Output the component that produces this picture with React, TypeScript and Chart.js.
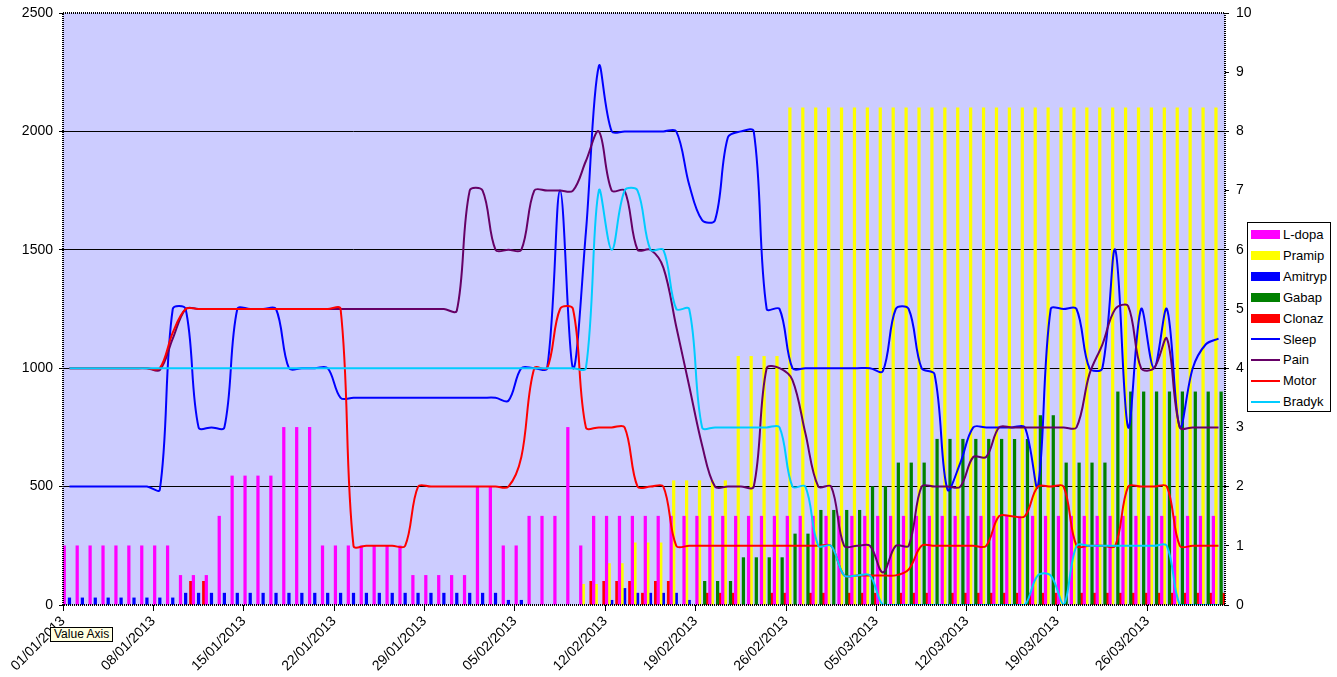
import { useEffect, useRef } from "react";
import { Chart, registerables } from "chart.js";

Chart.register(...registerables);

// x axis: one slot per day, 01/01/2013 .. 31/03/2013 (90 days)
const X_TICK_DAYS = [0, 7, 14, 21, 28, 35, 42, 49, 56, 63, 70, 77, 84];
const X_TICK_LABELS = [
  "01/01/2013", "08/01/2013", "15/01/2013", "22/01/2013", "29/01/2013",
  "05/02/2013", "12/02/2013", "19/02/2013", "26/02/2013", "05/03/2013",
  "12/03/2013", "19/03/2013", "26/03/2013",
];

// bar series (left axis, 0-2500)
const LDOPA = [
  250, 250, 250, 250, 250, 250, 250, 250, 250, 125,
  125, 125, 375, 545, 545, 545, 545, 750, 750, 750,
  250, 250, 250, 250, 250, 250, 250, 125, 125, 125,
  125, 125, 500, 500, 250, 250, 375, 375, 375, 750,
  250, 375, 375, 375, 375, 375, 375, 375, 375, 375,
  375, 375, 375, 375, 375, 375, 375, 375, 375, 375,
  375, 375, 375, 375, 375, 375, 375, 375, 375, 375,
  375, 375, 375, 375, 375, 375, 375, 375, 375, 375,
  375, 375, 375, 375, 375, 375, 375, 375, 375, 375,
];
const PRAMIP = [
  0, 0, 0, 0, 0, 0, 0, 0, 0, 0,
  0, 0, 0, 0, 0, 0, 0, 0, 0, 0,
  0, 0, 0, 0, 0, 0, 0, 0, 0, 0,
  0, 0, 0, 0, 0, 0, 0, 0, 0, 0,
  87.5, 87.5, 175, 175, 262.5, 262.5, 262.5, 525, 525, 525,
  525, 525, 1050, 1050, 1050, 1050, 2100, 2100, 2100, 2100,
  2100, 2100, 2100, 2100, 2100, 2100, 2100, 2100, 2100, 2100,
  2100, 2100, 2100, 2100, 2100, 2100, 2100, 2100, 2100, 2100,
  2100, 2100, 2100, 2100, 2100, 2100, 2100, 2100, 2100, 2100,
];
const AMITRYP = [
  30, 30, 30, 30, 30, 30, 30, 30, 30, 50,
  50, 50, 50, 50, 50, 50, 50, 50, 50, 50,
  50, 50, 50, 50, 50, 50, 50, 50, 50, 50,
  50, 50, 50, 50, 20, 20, 0, 0, 0, 0,
  0, 0, 20, 70, 50, 50, 50, 50, 20, 0,
  0, 0, 0, 0, 0, 0, 0, 0, 0, 0,
  0, 0, 0, 0, 0, 0, 0, 0, 0, 0,
  0, 0, 0, 0, 0, 0, 0, 0, 0, 0,
  0, 0, 0, 0, 0, 0, 0, 0, 0, 0,
];
const GABAP = [
  0, 0, 0, 0, 0, 0, 0, 0, 0, 0,
  0, 0, 0, 0, 0, 0, 0, 0, 0, 0,
  0, 0, 0, 0, 0, 0, 0, 0, 0, 0,
  0, 0, 0, 0, 0, 0, 0, 0, 0, 0,
  0, 0, 0, 0, 0, 0, 0, 0, 0, 100,
  100, 100, 200, 200, 200, 200, 300, 300, 400, 400,
  400, 400, 500, 500, 600, 600, 600, 700, 700, 700,
  700, 700, 700, 700, 700, 800, 800, 600, 600, 600,
  600, 900, 900, 900, 900, 900, 900, 900, 900, 900,
];
const CLONAZ = [
  0, 0, 0, 0, 0, 0, 0, 0, 0, 100,
  100, 0, 0, 0, 0, 0, 0, 0, 0, 0,
  0, 0, 0, 0, 0, 0, 0, 0, 0, 0,
  0, 0, 0, 0, 0, 0, 0, 0, 0, 0,
  100, 100, 100, 100, 50, 100, 100, 0, 0, 50,
  50, 50, 0, 0, 50, 50, 0, 50, 50, 0,
  50, 50, 50, 0, 50, 50, 50, 0, 50, 50,
  50, 50, 50, 50, 50, 50, 50, 0, 50, 50,
  50, 50, 50, 50, 50, 50, 50, 50, 50, 50,
];

// line series (right axis, 0-10)
const SLEEP = [
  2, 2, 2, 2, 2, 2, 2, 1.95, 5, 5,
  3, 3, 3, 5, 5, 5, 5, 4, 4, 4,
  4, 3.5, 3.5, 3.5, 3.5, 3.5, 3.5, 3.5, 3.5, 3.5,
  3.5, 3.5, 3.5, 3.5, 3.45, 4, 4, 4, 7, 4,
  6.3, 9.1, 8, 8, 8, 8, 8, 8, 7.1, 6.5,
  6.5, 7.9, 8, 8, 5, 5, 4, 4, 4, 4,
  4, 4, 4, 3.95, 5, 5, 4, 3.9, 1.95, 2.4,
  3, 3, 3, 3, 3, 2, 5, 5, 5, 4,
  4, 6, 3, 5, 4, 5, 3, 4, 4.4, 4.5,
];
const PAIN = [
  4, 4, 4, 4, 4, 4, 4, 3.97, 4.5, 5,
  5, 5, 5, 5, 5, 5, 5, 5, 5, 5,
  5, 5, 5, 5, 5, 5, 5, 5, 5, 5,
  4.97, 7, 7, 6, 6, 6, 7, 7, 7, 7,
  7.5, 8, 7, 7, 6, 6, 5.7, 4.7, 3.7, 2.7,
  2, 2, 2, 2, 4, 4, 3.8, 2.9, 2, 2,
  1, 1, 1, 0.55, 1, 1, 2, 2, 2, 2,
  2.5, 2.5, 3, 3, 3, 3, 3, 3, 3, 3.9,
  4.4, 5, 5.05, 4, 4, 4.5, 3, 3, 3, 3,
];
const MOTOR = [
  4, 4, 4, 4, 4, 4, 4, 4, 4.6, 5,
  5, 5, 5, 5, 5, 5, 5, 5, 5, 5,
  5, 5, 1, 1, 1, 1, 1, 2, 2, 2,
  2, 2, 2, 2, 2, 2.5, 4, 4, 5, 5,
  3, 3, 3, 3, 2, 2, 2, 1, 1, 1,
  1, 1, 1, 1, 1, 1, 1, 1, 1, 1,
  0.5, 0.5, 0.5, 0.5, 0.5, 0.6, 1, 1, 1, 1,
  1, 1, 1.5, 1.5, 1.5, 2, 2, 2, 1, 1,
  1, 1, 2, 2, 2, 2, 1, 1, 1, 1,
];
const BRADYK = [
  4, 4, 4, 4, 4, 4, 4, 4, 4, 4,
  4, 4, 4, 4, 4, 4, 4, 4, 4, 4,
  4, 4, 4, 4, 4, 4, 4, 4, 4, 4,
  4, 4, 4, 4, 4, 4, 4, 4, 4, 4,
  4, 7, 6, 7, 7, 6, 6, 5, 5, 3,
  3, 3, 3, 3, 3, 3, 2, 2, 1, 1,
  0.5, 0.5, 0.5, 0, 0, 0, 0, 0, 0, 0,
  0, 0, 0, 0, 0, 0.5, 0.5, 0, 1, 1,
  1, 1, 1, 1, 1, 1, 0, 0, 0, 0,
];

const BARS = [
  { label: "L-dopa", data: LDOPA, color: "#FF00FF" },
  { label: "Pramip", data: PRAMIP, color: "#FFFF00" },
  { label: "Amitryp", data: AMITRYP, color: "#0000FF" },
  { label: "Gabap", data: GABAP, color: "#008000" },
  { label: "Clonaz", data: CLONAZ, color: "#FF0000" },
];
const LINES = [
  { label: "Sleep", data: SLEEP, color: "#0000FF" },
  { label: "Pain", data: PAIN, color: "#660066" },
  { label: "Motor", data: MOTOR, color: "#FF0000" },
  { label: "Bradyk", data: BRADYK, color: "#00CCFF" },
];

const FONT = "'Liberation Sans', Arial, sans-serif";

// each day sits in the middle of its slot
const toPoints = (vals: number[], dropZero: boolean) =>
  vals.map((v, i) => ({ x: i + 0.5, y: dropZero && v === 0 ? null : v }));

// lavender plot background + dotted frame like the Excel original
const plotFrame = {
  id: "plotFrame",
  beforeDraw(chart: any) {
    const { ctx, chartArea: a } = chart;
    ctx.save();
    ctx.fillStyle = "#CCCCFF";
    ctx.fillRect(a.left, a.top, a.right - a.left, a.bottom - a.top);
    ctx.restore();
  },
  afterDraw(chart: any) {
    const { ctx, chartArea: a } = chart;
    ctx.save();
    ctx.strokeStyle = "#000";
    ctx.lineWidth = 2;
    ctx.setLineDash([1, 1]);
    ctx.strokeRect(a.left, a.top, a.right - a.left, a.bottom - a.top);
    ctx.restore();
  },
};

const noBorder = { display: false };

export default function App() {
  const canvasRef = useRef<HTMLCanvasElement>(null);
  const chartRef = useRef<Chart | null>(null);

  useEffect(() => {
    if (!canvasRef.current) return;
    if (chartRef.current) chartRef.current.destroy();

    const datasets: any[] = [
      ...LINES.map((s, i) => ({
        type: "line",
        label: s.label,
        data: toPoints(s.data, false),
        borderColor: s.color,
        backgroundColor: s.color,
        borderWidth: 2,
        pointRadius: 0,
        tension: 0.35,
        fill: false,
        yAxisID: "y1",
        order: 4 - i,
      })),
      ...BARS.map((s) => ({
        type: "bar",
        label: s.label,
        data: toPoints(s.data, true),
        backgroundColor: s.color,
        borderWidth: 0,
        categoryPercentage: 1,
        barPercentage: 1,
        yAxisID: "y",
        order: 10,
      })),
    ];

    chartRef.current = new Chart(canvasRef.current, {
      type: "bar",
      data: { datasets },
      plugins: [plotFrame],
      options: {
        animation: false,
        responsive: true,
        maintainAspectRatio: false,
        layout: { padding: { left: 8, right: 82, top: 13, bottom: 0 } },
        plugins: {
          legend: { display: false },
          tooltip: { enabled: false },
        },
        scales: {
          x: {
            type: "linear",
            min: 0,
            max: 90,
            offset: false,
            afterBuildTicks: (axis: any) => {
              axis.ticks = X_TICK_DAYS.map((v) => ({ value: v }));
            },
            afterFit: (axis: any) => {
              axis.height = 72;
              axis.paddingLeft = 0;
              axis.paddingRight = 0;
            },
            ticks: {
              autoSkip: false,
              minRotation: 45,
              maxRotation: 45,
              padding: 2,
              color: "#000",
              font: { family: FONT, size: 14 },
              callback: (_v: any, index: number) => X_TICK_LABELS[index] ?? "",
            },
            grid: {
              display: true,
              offset: false,
              drawOnChartArea: false,
              drawTicks: true,
              tickLength: 6,
              color: "#000",
            },
            border: noBorder,
          },
          y: {
            position: "left",
            min: 0,
            max: 2500,
            afterFit: (axis: any) => {
              axis.width = 55;
              axis.paddingTop = 0;
              axis.paddingBottom = 0;
            },
            ticks: {
              stepSize: 500,
              padding: 6,
              color: "#000",
              font: { family: FONT, size: 14 },
              callback: (v: any) => String(v),
            },
            grid: {
              color: (ctx: any) =>
                ctx.tick && ctx.tick.value > 0 && ctx.tick.value < 2500 ? "#000" : "rgba(0,0,0,0)",
              tickColor: "#000",
              tickLength: 4,
              lineWidth: 1,
            },
            border: noBorder,
          },
          y1: {
            position: "right",
            min: 0,
            max: 10,
            afterFit: (axis: any) => {
              axis.width = 30;
              axis.paddingTop = 0;
              axis.paddingBottom = 0;
            },
            ticks: {
              stepSize: 1,
              padding: 7,
              color: "#000",
              font: { family: FONT, size: 14 },
              callback: (v: any) => String(v),
            },
            grid: {
              drawOnChartArea: false,
              tickColor: "#000",
              tickLength: 4,
            },
            border: noBorder,
          },
        },
      } as any,
    });

    return () => {
      if (chartRef.current) {
        chartRef.current.destroy();
        chartRef.current = null;
      }
    };
  }, []);

  const legendItems = [
    ...BARS.map((s) => ({ label: s.label, color: s.color, bar: true })),
    ...LINES.map((s) => ({ label: s.label, color: s.color, bar: false })),
  ];

  return (
    <div
      style={{
        position: "absolute",
        left: 0,
        top: 0,
        width: 1337,
        height: 677,
        background: "#fff",
        overflow: "hidden",
        fontFamily: FONT,
      }}
    >
      <canvas ref={canvasRef} />
      <div
        style={{
          position: "absolute",
          left: 1247,
          top: 222,
          width: 84,
          height: 190,
          border: "1px solid #000",
          background: "#fff",
          boxSizing: "border-box",
        }}
      >
        {legendItems.map((item, i) => (
          <div
            key={item.label}
            style={{
              position: "absolute",
              left: 3,
              top: 12.5 + 20.9 * i - 1 - 8,
              height: 16,
              display: "flex",
              alignItems: "center",
              fontSize: 13,
              color: "#000",
              whiteSpace: "nowrap",
            }}
          >
            <span
              style={{
                display: "inline-block",
                width: 29,
                height: item.bar ? 9 : 2,
                background: item.color,
                marginRight: 3,
              }}
            />
            {item.label}
          </div>
        ))}
      </div>
      <div
        style={{
          position: "absolute",
          left: 50,
          top: 627,
          height: 15,
          padding: "0 3px",
          border: "1px solid #000",
          background: "#FFFFE1",
          fontSize: 12,
          lineHeight: "13px",
          color: "#000",
          boxSizing: "border-box",
          whiteSpace: "nowrap",
        }}
      >
        Value Axis
      </div>
    </div>
  );
}
